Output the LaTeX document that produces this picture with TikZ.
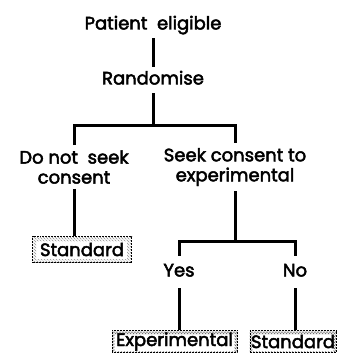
\documentclass[tikz,border=0pt]{standalone}
\usepackage{fontspec}
\setmainfont{Poppins}[FakeBold=2.6]
\usetikzlibrary{positioning,patterns}

\begin{document}
\begin{tikzpicture}[
  x=1pt, y=-1pt,
  font=\fontsize{18}{20}\selectfont,
  lbl/.style   = {inner xsep=2pt, inner ysep=5pt, text height=12.5pt, text depth=3.5pt},
  lbl2/.style  = {align=center, inner xsep=2pt, inner ysep=5pt},
  link/.style  = {line width=3pt, line join=miter},
  frame/.style = {draw, densely dotted, line width=0.5pt, inner sep=2pt,
                  minimum width=99pt, minimum height=26pt},
  hatchbox/.style = {frame, path picture={
      \fill[pattern=north west lines, even odd rule]
        (path picture bounding box.south west) rectangle (path picture bounding box.north east)
        ([shift={(3.5pt,3.5pt)}]path picture bounding box.south west) rectangle
        ([shift={(-4.5pt,-4.5pt)}]path picture bounding box.north east);}},
  crossbox/.style = {frame, minimum height=22pt, inner sep=1pt, path picture={
      \fill[pattern=crosshatch, even odd rule]
        (path picture bounding box.south west) rectangle (path picture bounding box.north east)
        ([shift={(2.5pt,1pt)}]path picture bounding box.south west) rectangle
        ([shift={(-2.5pt,-4pt)}]path picture bounding box.north east);}}]

\useasboundingbox (0,0) rectangle (339,353);
\fill[white] (0,0) rectangle (339,353);

% decision tree
\node[lbl]  (pat)  at (153,25)  {Patient\ \ eligible};
\node[lbl]  (rand) at (153,80)  {Randomise};
\node[lbl2] (dns)  at (74,167)  {Do not\ \ seek\\consent};
\node[lbl2] (sce)  at (235,167) {Seek consent to\\experimental};
\node[hatchbox] (std1) at (82,249.5) {Standard};
\node[lbl, inner ysep=8pt] (yes) at (179,272) {Yes};
\node[lbl, inner ysep=8pt] (no)  at (295,272) {No};
\node[crossbox, minimum width=125pt] (exp)  at (174.5,341.5) {Experimental};
\node[crossbox, minimum width=84pt] (std2) at (293,341.5) {Standard};

\coordinate (b1) at (153,125);
\coordinate (b2) at (sce |- 0,241);

\draw[link] (pat) -- (rand);
\draw[link] (rand) -- (b1);
\draw[link] (dns) |- (b1) -| (sce);
\draw[link] (dns) -- (dns |- std1.north);
\draw[link] (sce) -- (b2);
\draw[link] (yes) |- (b2) -| (no);
\draw[link] (yes) -- (yes |- exp.north);
\draw[link] (no) -- (no |- std2.north);

\end{tikzpicture}
\end{document}
